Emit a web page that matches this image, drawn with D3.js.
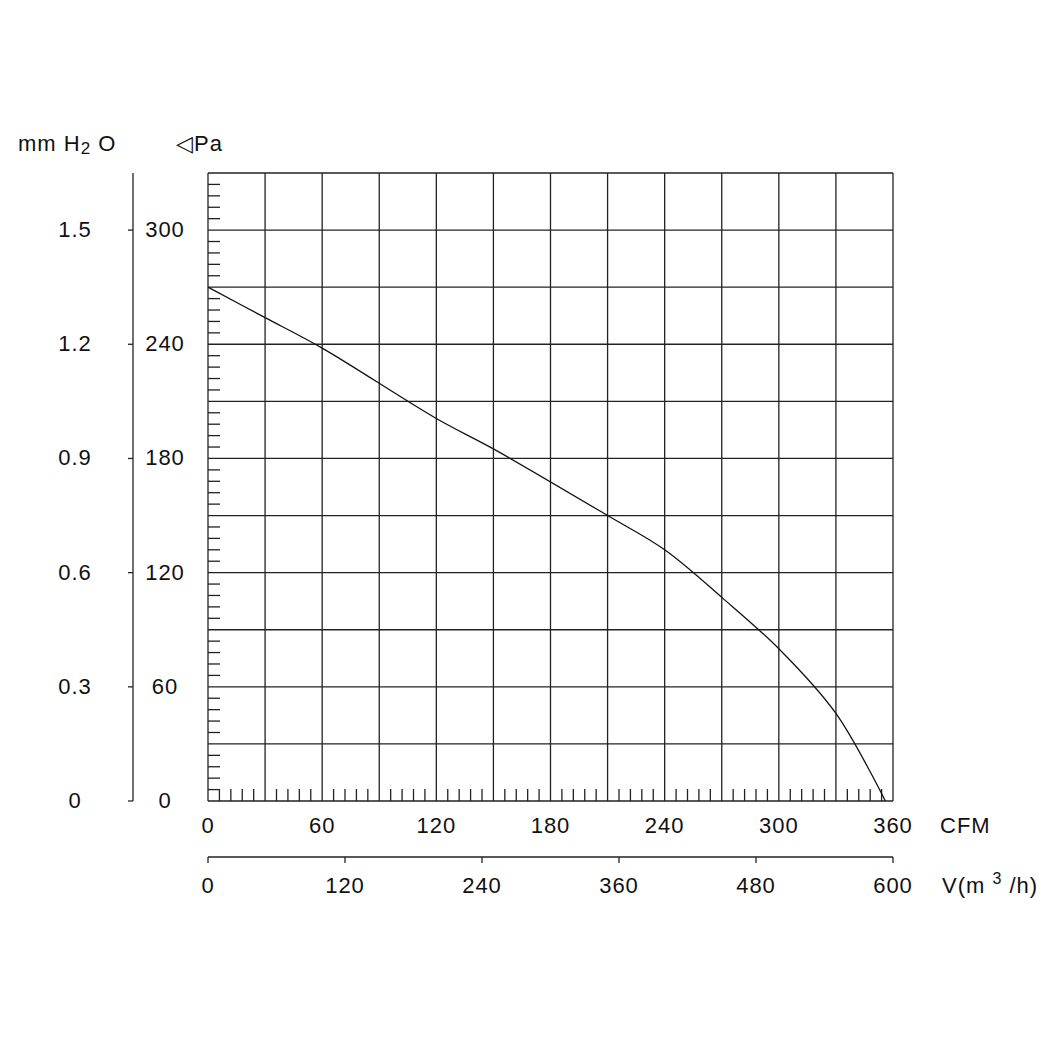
<!DOCTYPE html>
<html><head><meta charset="utf-8">
<script src="https://cdn.jsdelivr.net/npm/d3@7"></script>
<style>body{margin:0;background:#fff}text{font-family:"Liberation Sans",Arial,sans-serif;font-size:22px;fill:#111;letter-spacing:1px}</style>
</head><body><svg id="c" width="1049" height="1049"></svg>
<script>
const curveCFM=[0,30,60,120,150,210,240,270,300,330,356];
const curvePa=[270,254,238,201,185,150,132,107,80,46,0];
const paTicks=[0,60,120,180,240,300];
const mmTicks=["0","0.3","0.6","0.9","1.2","1.5"];
const cfmTicks=[0,60,120,180,240,300,360];
const m3hTicks=[0,120,240,360,480,600];
const svg=d3.select("#c");
const x=d3.scaleLinear().domain([0,360]).range([208,893]);
const y=d3.scaleLinear().domain([0,330]).range([801,173]);
const x2=d3.scaleLinear().domain([0,600]).range([208,893]);
const g=svg.append("g").attr("stroke","#222").attr("stroke-width",1.3);
d3.range(0,361,30).forEach(v=>g.append("line").attr("x1",x(v)).attr("x2",x(v)).attr("y1",y(0)).attr("y2",y(330)));
d3.range(0,331,30).forEach(v=>g.append("line").attr("x1",x(0)).attr("x2",x(360)).attr("y1",y(v)).attr("y2",y(v)));
d3.range(6,330,6).forEach(v=>{if(v%30) g.append("line").attr("x1",x(0)).attr("x2",x(0)+12).attr("y1",y(v)).attr("y2",y(v));});
d3.range(6,360,6).forEach(v=>{if(v%30) g.append("line").attr("x1",x(v)).attr("x2",x(v)).attr("y1",y(0)).attr("y2",y(0)-12);});
g.append("line").attr("x1",133).attr("x2",133).attr("y1",173).attr("y2",801);
paTicks.forEach(v=>g.append("line").attr("x1",128).attr("x2",133).attr("y1",y(v)).attr("y2",y(v)));
paTicks.forEach((v,i)=>{
 svg.append("text").attr("x",165).attr("y",y(v)+7).attr("text-anchor","middle").text(v);
 svg.append("text").attr("x",75).attr("y",y(v)+7).attr("text-anchor","middle").text(mmTicks[i]);
});
cfmTicks.forEach(v=>svg.append("text").attr("x",x(v)).attr("y",833).attr("text-anchor","middle").text(v));
g.append("line").attr("x1",x2(0)).attr("x2",x2(600)).attr("y1",857).attr("y2",857);
m3hTicks.forEach(v=>{g.append("line").attr("x1",x2(v)).attr("x2",x2(v)).attr("y1",857).attr("y2",863);
 svg.append("text").attr("x",x2(v)).attr("y",893).attr("text-anchor","middle").text(v);});
svg.append("text").attr("x",940).attr("y",833).text("CFM");
const t=svg.append("text").attr("x",942).attr("y",893);
t.append("tspan").text("V(m ");t.append("tspan").attr("font-size",16).attr("dy",-9).text("3");t.append("tspan").attr("dy",9).text(" /h)");
const t2=svg.append("text").attr("x",18).attr("y",151);
t2.append("tspan").text("mm H");t2.append("tspan").attr("font-size",17).attr("dy",3).text("2");t2.append("tspan").attr("dy",-3).text(" O");
svg.append("text").attr("x",176).attr("y",151).text("◁Pa");
svg.append("path").datum(curveCFM.map((c,i)=>[c,curvePa[i]]))
 .attr("d",d3.line().x(d=>x(d[0])).y(d=>y(d[1])).curve(d3.curveCatmullRom.alpha(0.5)))
 .attr("fill","none").attr("stroke","#111").attr("stroke-width",1.3);
</script></body></html>
